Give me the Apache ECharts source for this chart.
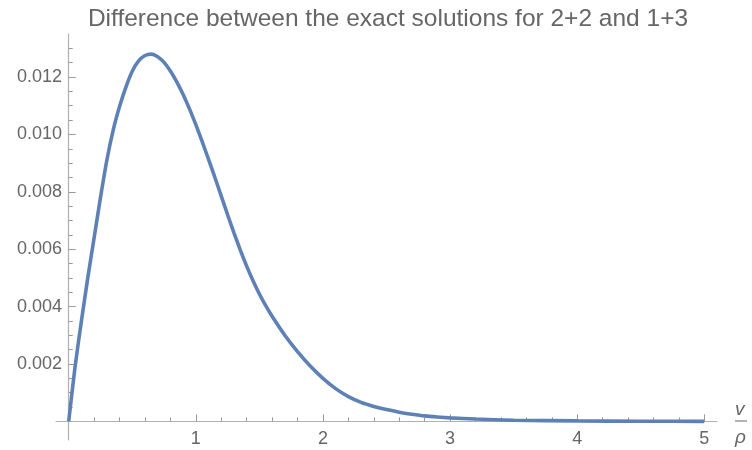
<!DOCTYPE html>
<html>
<head>
<meta charset="utf-8">
<script src="https://cdn.jsdelivr.net/npm/echarts@6/dist/echarts.min.js"></script>
<style>
  html, body { margin: 0; padding: 0; background: #fff; }
  #chart { width: 752px; height: 450px; }
</style>
</head>
<body>
<div id="chart"></div>
<script>
// Difference between the two exact solutions, sampled along v/rho
const ratioValues = [0, 0.05, 0.1, 0.15, 0.2, 0.25, 0.3, 0.35, 0.4, 0.45, 0.5, 0.55, 0.6, 0.65, 0.7, 0.75, 0.8, 0.85, 0.9, 0.95, 1.0, 1.05, 1.1, 1.15, 1.2, 1.25, 1.3, 1.35, 1.4, 1.45, 1.5, 1.55, 1.6, 1.7, 1.8, 1.9, 2.0, 2.1, 2.2, 2.3, 2.4, 2.5, 2.6, 2.7, 2.8, 2.9, 3.0, 3.2, 3.5, 4.0, 4.5, 5.0];
const differenceValues = [0, 0.0019, 0.0035, 0.0050, 0.0064, 0.0078, 0.0091, 0.01015, 0.01097, 0.01165, 0.0122, 0.01256, 0.01275, 0.0128, 0.01271, 0.01251, 0.01221, 0.01183, 0.01139, 0.01089, 0.01034, 0.00975, 0.00913, 0.0085, 0.00785, 0.0072, 0.00657, 0.00597, 0.00541, 0.0049, 0.00444, 0.00403, 0.00366, 0.003, 0.00243, 0.00193, 0.0015, 0.00114, 0.00086, 0.00066, 0.00052, 0.00041, 0.00032, 0.00025, 0.00019, 0.00015, 0.00012, 0.00008, 0.00004, 0.000015, 0.000005, 0];

// Tick positions
const xMajorTicks = [1, 2, 3, 4, 5];
const xMinorTicks = [0.2, 0.4, 0.6, 0.8, 1.2, 1.4, 1.6, 1.8, 2.2, 2.4, 2.6, 2.8, 3.2, 3.4, 3.6, 3.8, 4.2, 4.4, 4.6, 4.8];
const yMajorTicks = [0.002, 0.004, 0.006, 0.008, 0.010, 0.012];
const yMinorTicks = [0.0005, 0.001, 0.0015, 0.0025, 0.003, 0.0035, 0.0045, 0.005, 0.0055, 0.0065, 0.007, 0.0075, 0.0085, 0.009, 0.0095, 0.0105, 0.011, 0.0115, 0.0125, 0.013];

const chartTitle = 'Difference between the exact solutions for 2+2 and 1+3';

const FONT = '"Liberation Sans", Arial, sans-serif';
const AXIS_COLOR = '#b0b0b0';
const TICK_COLOR = '#999999';
const LABEL_COLOR = '#666666';

const X_RANGE = { min: -0.1, max: 5.1 };
const Y_RANGE = { min: -0.00065, max: 0.0135 };

const curve = ratioValues.map((x, i) => [x, differenceValues[i]]);

const chart = echarts.init(document.getElementById('chart'), null, { renderer: 'canvas' });

chart.setOption({
  animation: false,
  backgroundColor: '#ffffff',
  title: {
    text: chartTitle,
    left: 383,
    top: 2,
    textAlign: 'center',
    textStyle: { fontFamily: FONT, fontSize: 24.5, fontWeight: 'normal', color: LABEL_COLOR }
  },
  grid: { left: 56, right: 35, top: 34, bottom: 10, containLabel: false, outerBoundsMode: 'none' },
  xAxis: [
    {
      type: 'value', position: 'bottom', ...X_RANGE,
      axisLine: { show: true, onZero: true, onZeroAxisIndex: 0, lineStyle: { color: AXIS_COLOR, width: 1.2 } },
      axisTick: { show: true, inside: true, length: 7, customValues: xMajorTicks, lineStyle: { color: TICK_COLOR } },
      axisLabel: { show: true, customValues: xMajorTicks, margin: -10, fontFamily: FONT, fontSize: 18, color: LABEL_COLOR, formatter: v => String(v) },
      splitLine: { show: false }
    },
    {
      type: 'value', position: 'bottom', ...X_RANGE,
      axisLine: { show: false, onZero: true, onZeroAxisIndex: 0 },
      axisTick: { show: true, inside: true, length: 4, customValues: xMinorTicks, lineStyle: { color: TICK_COLOR } },
      axisLabel: { show: false },
      splitLine: { show: false }
    }
  ],
  yAxis: [
    {
      type: 'value', position: 'left', ...Y_RANGE,
      axisLine: { show: true, onZero: true, onZeroAxisIndex: 0, lineStyle: { color: AXIS_COLOR, width: 1.2 } },
      axisTick: { show: true, inside: true, length: 7, customValues: yMajorTicks, lineStyle: { color: TICK_COLOR } },
      axisLabel: { show: true, customValues: yMajorTicks, margin: -6, fontFamily: FONT, fontSize: 18, color: LABEL_COLOR, formatter: v => v.toFixed(3) },
      splitLine: { show: false }
    },
    {
      type: 'value', position: 'left', ...Y_RANGE,
      axisLine: { show: false, onZero: true, onZeroAxisIndex: 0 },
      axisTick: { show: true, inside: true, length: 4, customValues: yMinorTicks, lineStyle: { color: TICK_COLOR } },
      axisLabel: { show: false },
      splitLine: { show: false }
    }
  ],
  series: [
    {
      type: 'line',
      xAxisIndex: 0,
      yAxisIndex: 0,
      data: curve,
      smooth: 0.25,
      showSymbol: false,
      clip: true,
      lineStyle: { color: '#5e81b5', width: 3.6 }
    }
  ],
  // axis name: v over rho, written as a fraction at the end of the horizontal axis
  graphic: [
    { type: 'text', left: 735, top: 400, style: { text: 'v', font: 'italic 19px ' + FONT, fill: LABEL_COLOR } },
    { type: 'line', shape: { x1: 735, y1: 421, x2: 747, y2: 421 }, style: { stroke: '#888888', lineWidth: 1.3 } },
    { type: 'text', left: 735, top: 428, style: { text: 'ρ', font: 'italic 19px ' + FONT, fill: LABEL_COLOR } }
  ]
});
</script>
</body>
</html>
